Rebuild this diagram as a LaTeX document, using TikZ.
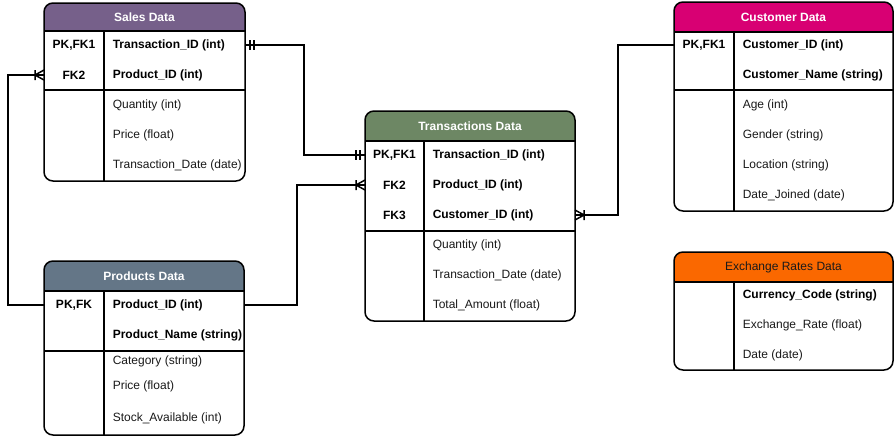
\documentclass[tikz,border=0pt]{standalone}
\usepackage{fontspec}
\setmainfont{Liberation Sans}
\definecolor{salesc}{HTML}{76608A}
\definecolor{transc}{HTML}{6D8764}
\definecolor{prodc}{HTML}{647687}
\definecolor{custc}{HTML}{D80073}
\definecolor{exc}{HTML}{FA6800}
\definecolor{txt}{HTML}{1A1A1A}
\begin{document}
\begin{tikzpicture}[x=1pt,y=-1pt,line width=1.5pt,
  every node/.style={font=\fontsize{12}{14}\selectfont, text=txt},
  tbl/.style={inner sep=0pt, outer sep=0pt},
  ttl/.style={font=\fontsize{12}{14}\selectfont\bfseries, text=white},
  key/.style={font=\fontsize{12}{14}\selectfont\bfseries, text=black, inner sep=0pt},
  fb/.style={font=\fontsize{12}{14}\selectfont\bfseries, text=black, anchor=west, inner sep=0pt},
  fn/.style={anchor=west, inner sep=0pt},
  conn/.style={line width=1.5pt, black},
  mandone/.pic={\draw[line width=1.5pt] (-5,-5)--(-5,5) (-9,-5)--(-9,5);},
  onemany/.pic={\draw[line width=1.5pt] (0,-5)--(-9,0)--(0,5) (-9,-5)--(-9,5);}
]
\fill[white] (0,0) rectangle (895,437);
\useasboundingbox (0,0) rectangle (895,437);

% ---------- Sales Data ----------
\node[tbl, minimum width=201pt, minimum height=178pt, anchor=north west] (sales) at (44,3) {};
\begin{scope}
\clip[rounded corners=9pt] (sales.north west) rectangle (sales.south east);
\fill[salesc] (sales.north west) rectangle (sales.east |- 0,31);
\end{scope}
\draw (sales.west |- 0,31) -- (sales.east |- 0,31);
\draw (sales.west |- 0,90) -- (sales.east |- 0,90);
\draw (104,31) -- (104,181);
\draw[rounded corners=9pt] (sales.north west) rectangle (sales.south east);
\node[ttl] (sales-t) at (144.5,17) {Sales Data};
\node[key] (s-k1) at (74,45) {PK,FK1};
\node[key] (s-k2) at (74,75) {FK2};
\node[fb] (s-tid) at (112,45) {Transaction\_ID (int)};
\node[fb] (s-pid) at (112,75) {Product\_ID (int)};
\node[fn] (s-q) at (112,105) {Quantity (int)};
\node[fn] (s-p) at (112,135) {Price (float)};
\node[fn] (s-d) at (112,165) {Transaction\_Date (date)};

% ---------- Transactions Data ----------
\node[tbl, minimum width=210pt, minimum height=210pt, anchor=north west] (trans) at (365,111) {};
\begin{scope}
\clip[rounded corners=9pt] (trans.north west) rectangle (trans.south east);
\fill[transc] (trans.north west) rectangle (trans.east |- 0,141);
\end{scope}
\draw (trans.west |- 0,141) -- (trans.east |- 0,141);
\draw (trans.west |- 0,231) -- (trans.east |- 0,231);
\draw (424,141) -- (424,321);
\draw[rounded corners=9pt] (trans.north west) rectangle (trans.south east);
\node[ttl] (trans-t) at (470,126) {Transactions Data};
\node[key] (t-k1) at (394.5,155) {PK,FK1};
\node[key] (t-k2) at (394.5,185) {FK2};
\node[key] (t-k3) at (394.5,215) {FK3};
\node[fb] (t-tid) at (432,155) {Transaction\_ID (int)};
\node[fb] (t-pid) at (432,185) {Product\_ID (int)};
\node[fb] (t-cid) at (432,215) {Customer\_ID (int)};
\node[fn] (t-q) at (432,245) {Quantity (int)};
\node[fn] (t-d) at (432,275) {Transaction\_Date (date)};
\node[fn] (t-a) at (432,305) {Total\_Amount (float)};

% ---------- Products Data ----------
\node[tbl, minimum width=200pt, minimum height=174pt, anchor=north west] (prod) at (44,261) {};
\begin{scope}
\clip[rounded corners=9pt] (prod.north west) rectangle (prod.south east);
\fill[prodc] (prod.north west) rectangle (prod.east |- 0,291);
\end{scope}
\draw (prod.west |- 0,291) -- (prod.east |- 0,291);
\draw (prod.west |- 0,351) -- (prod.east |- 0,351);
\draw (104,291) -- (104,435);
\draw[rounded corners=9pt] (prod.north west) rectangle (prod.south east);
\node[ttl] (prod-t) at (144,276) {Products Data};
\node[key] (p-k1) at (74,305) {PK,FK};
\node[fb] (p-pid) at (112,305) {Product\_ID (int)};
\node[fb] (p-pn) at (112,335) {Product\_Name (string)};
\node[fn] (p-c) at (112,361) {Category (string)};
\node[fn] (p-p) at (112,386) {Price (float)};
\node[fn] (p-s) at (112,418) {Stock\_Available (int)};

% ---------- Customer Data ----------
\node[tbl, minimum width=219pt, minimum height=209pt, anchor=north west] (cust) at (674,2) {};
\begin{scope}
\clip[rounded corners=9pt] (cust.north west) rectangle (cust.south east);
\fill[custc] (cust.north west) rectangle (cust.east |- 0,32);
\end{scope}
\draw (cust.west |- 0,32) -- (cust.east |- 0,32);
\draw (cust.west |- 0,90) -- (cust.east |- 0,90);
\draw (734,32) -- (734,211);
\draw[rounded corners=9pt] (cust.north west) rectangle (cust.south east);
\node[ttl] (cust-t) at (783.5,17) {Customer Data};
\node[key] (c-k1) at (704,45) {PK,FK1};
\node[fb] (c-cid) at (742,45) {Customer\_ID (int)};
\node[fb] (c-cn) at (742,75) {Customer\_Name (string)};
\node[fn] (c-a) at (742,105) {Age (int)};
\node[fn] (c-g) at (742,135) {Gender (string)};
\node[fn] (c-l) at (742,165) {Location (string)};
\node[fn] (c-d) at (742,195) {Date\_Joined (date)};

% ---------- Exchange Rates Data ----------
\node[tbl, minimum width=219pt, minimum height=118pt, anchor=north west] (exch) at (674,252) {};
\begin{scope}
\clip[rounded corners=9pt] (exch.north west) rectangle (exch.south east);
\fill[exc] (exch.north west) rectangle (exch.east |- 0,282);
\end{scope}
\draw (exch.west |- 0,282) -- (exch.east |- 0,282);
\draw (734,282) -- (734,370);
\draw[rounded corners=9pt] (exch.north west) rectangle (exch.south east);
\node[text=txt] (exch-t) at (783.5,267) {Exchange Rates Data};
\node[fb] (e-cc) at (742,295) {Currency\_Code (string)};
\node[fn] (e-r) at (742,325) {Exchange\_Rate (float)};
\node[fn] (e-d) at (742,355) {Date (date)};

% ---------- Connectors ----------
\draw[conn] (sales.east |- s-tid) -- ++(59,0) |- (trans.west |- t-tid);
\pic[xscale=-1] at (sales.east |- s-tid) {mandone};
\pic at (trans.west |- t-tid) {mandone};

\draw[conn] (prod.east |- p-pid) -- ++(53,0) |- (trans.west |- t-pid);
\pic at (trans.west |- t-pid) {onemany};

\draw[conn] (prod.west |- p-pid) -- ++(-36,0) |- (sales.west |- s-pid);
\pic at (sales.west |- s-pid) {onemany};

\draw[conn] (cust.west |- c-cid) -- ++(-56,0) |- (trans.east |- t-cid);
\pic[xscale=-1] at (trans.east |- t-cid) {onemany};
\end{tikzpicture}
\end{document}
